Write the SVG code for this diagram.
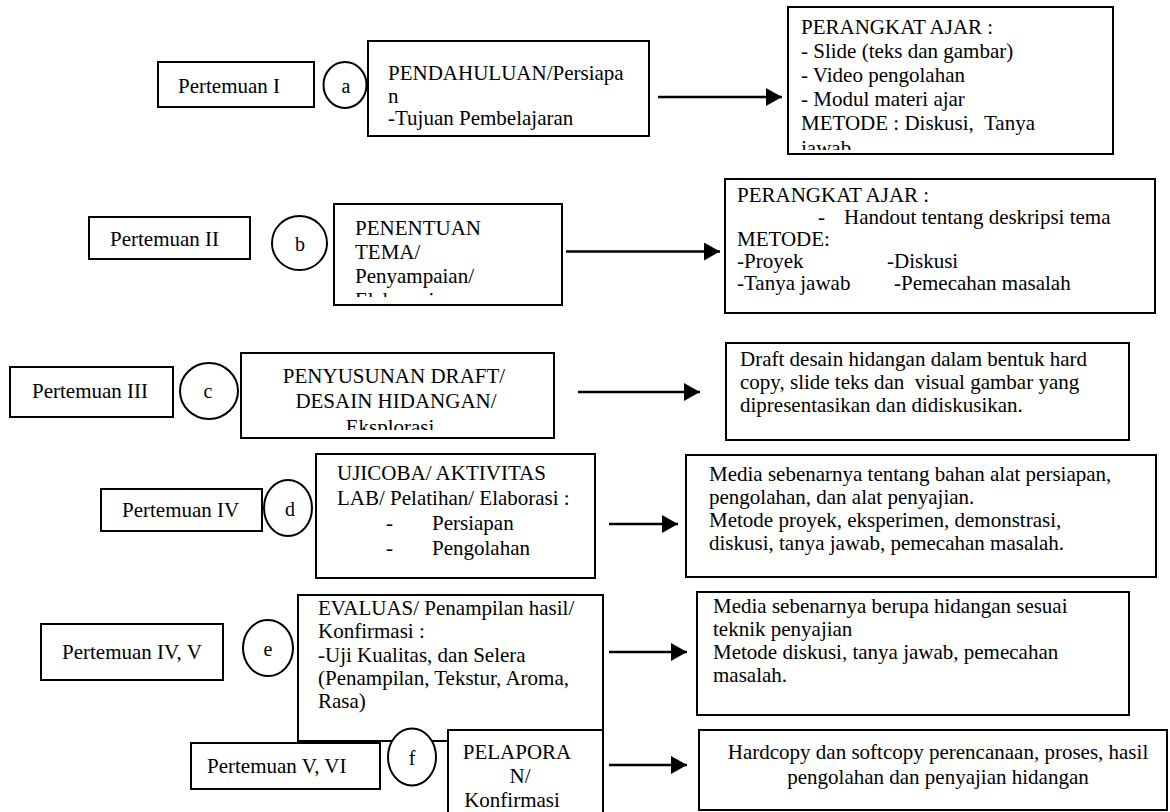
<svg xmlns="http://www.w3.org/2000/svg" width="1170" height="812" viewBox="0 0 1170 812">
  <style>
    .box { fill: #fff; stroke: #000; stroke-width: 2; }
    .bub { fill: #fff; stroke: #000; stroke-width: 2; }
    .t { font-family: "Liberation Serif", "Times New Roman", serif; font-size: 21px; fill: #000; }
    .mid { text-anchor: middle; }
    .ch { font-family: "Liberation Serif", "Times New Roman", serif; font-size: 20px; fill: #000; text-anchor: middle; }
    .wire { stroke: #000; stroke-width: 2.5; fill: none; marker-end: url(#ah); }
  </style>
  <defs>
    <marker id="ah" markerUnits="userSpaceOnUse" markerWidth="16" markerHeight="18" refX="16" refY="9" orient="auto">
      <path d="M0,0 L16,9 L0,18 z" fill="#000"/>
    </marker>
    <clipPath id="clip1"><rect x="789" y="8" width="323" height="142"/></clipPath>
    <clipPath id="clip2"><rect x="335" y="205" width="226" height="92"/></clipPath>
    <clipPath id="clip3"><rect x="242" y="354" width="311" height="76"/></clipPath>
  </defs>

  <rect width="1170" height="812" fill="#fff"/>

  <!-- session 1 -->
  <g id="pertemuan-1">
    <rect class="box" x="158" y="62" width="156" height="45"/>
    <text class="t" x="178" y="93">Pertemuan I</text>
  </g>
  <g id="step-a">
    <ellipse class="bub" cx="345" cy="85" rx="21.5" ry="23"/>
    <text class="ch" x="346" y="93">a</text>
  </g>
  <g id="pendahuluan">
    <rect class="box" x="368" y="41" width="281" height="95"/>
    <text class="t" x="388" y="80">PENDAHULUAN/Persiapa</text>
    <text class="t" x="388" y="103">n</text>
    <text class="t" x="388" y="125">-Tujuan Pembelajaran</text>
  </g>
  <g id="perangkat-1">
    <rect class="box" x="788" y="7" width="325" height="147"/>
    <g clip-path="url(#clip1)">
      <text class="t" x="801" y="34">PERANGKAT AJAR :</text>
      <text class="t" x="801" y="58">- Slide (teks dan gambar)</text>
      <text class="t" x="801" y="82">- Video pengolahan</text>
      <text class="t" x="801" y="106">- Modul materi ajar</text>
      <text class="t" x="801" y="130" xml:space="preserve">METODE : Diskusi,  Tanya</text>
      <text class="t" x="801" y="155">jawab</text>
    </g>
  </g>

  <!-- session 2 -->
  <g id="pertemuan-2">
    <rect class="box" x="89" y="217" width="161" height="42"/>
    <text class="t" x="110" y="246">Pertemuan II</text>
  </g>
  <g id="step-b">
    <ellipse class="bub" cx="299.5" cy="243" rx="27.5" ry="27"/>
    <text class="ch" x="300" y="251">b</text>
  </g>
  <g id="penentuan-tema">
    <rect class="box" x="334" y="204" width="228" height="101"/>
    <g clip-path="url(#clip2)">
      <text class="t" x="355" y="235">PENENTUAN</text>
      <text class="t" x="355" y="259">TEMA/</text>
      <text class="t" x="355" y="283">Penyampaian/</text>
      <text class="t" x="355" y="307">Elaborasi</text>
    </g>
  </g>
  <g id="perangkat-2">
    <rect class="box" x="725" y="179" width="430" height="134"/>
    <text class="t" x="737" y="202">PERANGKAT AJAR :</text>
    <text class="t" x="818" y="224">-</text>
    <text class="t" x="844" y="224">Handout tentang deskripsi tema</text>
    <text class="t" x="737" y="246">METODE:</text>
    <text class="t" x="737" y="268">-Proyek</text>
    <text class="t" x="887" y="268">-Diskusi</text>
    <text class="t" x="737" y="290">-Tanya jawab</text>
    <text class="t" x="894" y="290">-Pemecahan masalah</text>
  </g>

  <!-- session 3 -->
  <g id="pertemuan-3">
    <rect class="box" x="10" y="367" width="163" height="50"/>
    <text class="t" x="32" y="398">Pertemuan III</text>
  </g>
  <g id="step-c">
    <ellipse class="bub" cx="209" cy="391" rx="29" ry="28"/>
    <text class="ch" x="208" y="398">c</text>
  </g>
  <g id="penyusunan-draft">
    <rect class="box" x="241" y="353" width="313" height="85"/>
    <g clip-path="url(#clip3)">
      <text class="t mid" x="394" y="383">PENYUSUNAN DRAFT/</text>
      <text class="t mid" x="396" y="408">DESAIN HIDANGAN/</text>
      <text class="t mid" x="390" y="434">Eksplorasi</text>
    </g>
  </g>
  <g id="hasil-draft">
    <rect class="box" x="726" y="343" width="403" height="97"/>
    <text class="t" x="740" y="366">Draft desain hidangan dalam bentuk hard</text>
    <text class="t" x="740" y="389" xml:space="preserve">copy, slide teks dan  visual gambar yang</text>
    <text class="t" x="740" y="412">dipresentasikan dan didiskusikan.</text>
  </g>

  <!-- session 4 -->
  <g id="pertemuan-4">
    <rect class="box" x="101" y="489" width="161" height="42"/>
    <text class="t" x="122" y="517">Pertemuan IV</text>
  </g>
  <g id="step-d">
    <ellipse class="bub" cx="288" cy="508" rx="24" ry="28"/>
    <text class="ch" x="290" y="516">d</text>
  </g>
  <g id="ujicoba">
    <rect class="box" x="316" y="454" width="279" height="124"/>
    <text class="t" x="337" y="480">UJICOBA/ AKTIVITAS</text>
    <text class="t" x="337" y="505">LAB/ Pelatihan/ Elaborasi :</text>
    <text class="t" x="386" y="530">-</text>
    <text class="t" x="432" y="530">Persiapan</text>
    <text class="t" x="386" y="555">-</text>
    <text class="t" x="432" y="555">Pengolahan</text>
  </g>
  <g id="media-lab">
    <rect class="box" x="686" y="455" width="470" height="122"/>
    <text class="t" x="709" y="481">Media sebenarnya tentang bahan alat persiapan,</text>
    <text class="t" x="709" y="504">pengolahan, dan alat penyajian.</text>
    <text class="t" x="709" y="527">Metode proyek, eksperimen, demonstrasi,</text>
    <text class="t" x="709" y="550">diskusi, tanya jawab, pemecahan masalah.</text>
  </g>

  <!-- session 5 -->
  <g id="pertemuan-4-5">
    <rect class="box" x="41" y="624" width="182" height="56"/>
    <text class="t" x="62" y="659">Pertemuan IV, V</text>
  </g>
  <g id="evaluasi">
    <rect class="box" x="298" y="595" width="305" height="146"/>
    <text class="t" x="318" y="615">EVALUAS/ Penampilan hasil/</text>
    <text class="t" x="318" y="638">Konfirmasi :</text>
    <text class="t" x="318" y="662">-Uji Kualitas, dan Selera</text>
    <text class="t" x="318" y="685">(Penampilan, Tekstur, Aroma,</text>
    <text class="t" x="318" y="708">Rasa)</text>
  </g>
  <g id="step-e">
    <ellipse class="bub" cx="268" cy="648" rx="25" ry="28"/>
    <text class="ch" x="268" y="656">e</text>
  </g>
  <g id="media-hidangan">
    <rect class="box" x="697" y="592" width="432" height="123"/>
    <text class="t" x="713" y="613">Media sebenarnya berupa hidangan sesuai</text>
    <text class="t" x="713" y="636">teknik penyajian</text>
    <text class="t" x="713" y="659">Metode diskusi, tanya jawab, pemecahan</text>
    <text class="t" x="713" y="682">masalah.</text>
  </g>

  <!-- session 6 -->
  <g id="pertemuan-5-6">
    <rect class="box" x="191" y="743" width="189" height="46"/>
    <text class="t" x="207" y="773">Pertemuan V, VI</text>
  </g>
  <g id="pelaporan">
    <rect class="box" x="448" y="730" width="155" height="100"/>
    <text class="t mid" x="517" y="759">PELAPORA</text>
    <text class="t mid" x="520" y="783">N/</text>
    <text class="t mid" x="512" y="807">Konfirmasi</text>
  </g>
  <g id="step-f">
    <ellipse class="bub" cx="412" cy="757" rx="24" ry="28.5"/>
    <text class="ch" x="412" y="765">f</text>
  </g>
  <g id="laporan">
    <rect class="box" x="699" y="730" width="468" height="80"/>
    <text class="t mid" x="938" y="759">Hardcopy dan softcopy perencanaan, proses, hasil</text>
    <text class="t mid" x="938" y="784">pengolahan dan penyajian hidangan</text>
  </g>

  <!-- arrows from each activity to its media / method box -->
  <g id="connectors">
    <line class="wire" x1="658" y1="97" x2="782" y2="97"/>
    <line class="wire" x1="566" y1="251.5" x2="720" y2="251.5"/>
    <line class="wire" x1="578" y1="392" x2="700" y2="392"/>
    <line class="wire" x1="609" y1="524" x2="678" y2="524"/>
    <line class="wire" x1="609" y1="652" x2="687" y2="652"/>
    <line class="wire" x1="609" y1="765" x2="687" y2="765"/>
  </g>
</svg>
